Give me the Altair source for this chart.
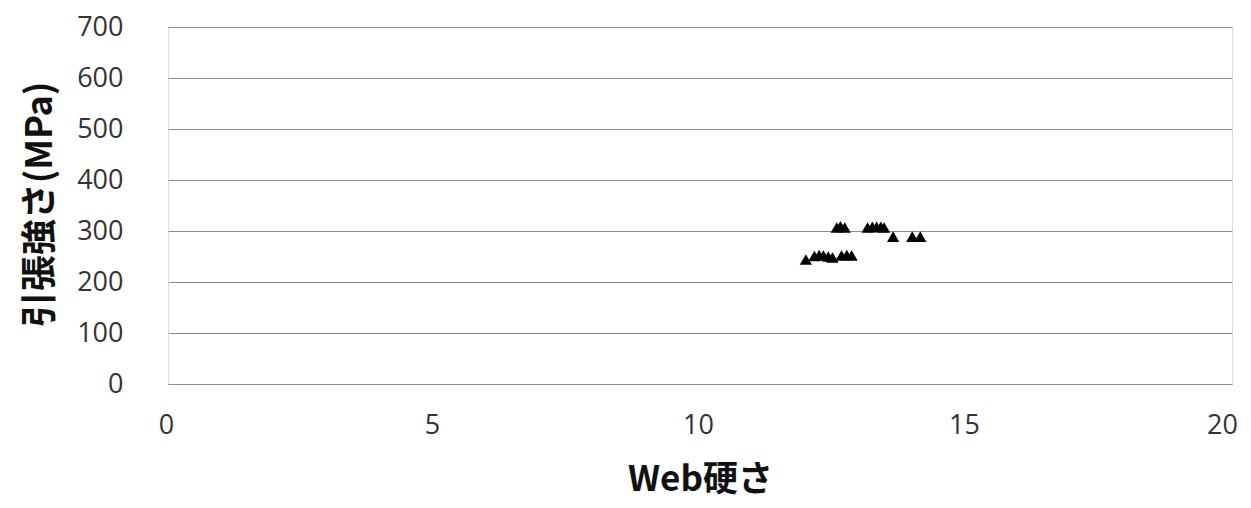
import altair as alt
import pandas as pd

web_hardness = [12.57, 12.64, 12.72,
                13.15, 13.24, 13.32, 13.40, 13.46,
                13.63, 13.99, 14.14,
                11.99, 12.15, 12.24, 12.32, 12.41, 12.49,
                12.66, 12.76, 12.85]
tensile = [307, 309, 307,
           307, 308, 308, 308, 307,
           289, 289, 289,
           244, 251, 253, 252, 250, 248,
           252, 253, 252]
x_ticks = [0, 5, 10, 15, 20]
y_ticks = [0, 100, 200, 300, 400, 500, 600, 700]

df = pd.DataFrame({"x": web_hardness, "y": tensile})

chart = alt.Chart(df).mark_point(
    shape="triangle-up", filled=True, color="black", opacity=1, size=150
).encode(
    x=alt.X("x:Q", scale=alt.Scale(domain=[0, 20], nice=False),
            axis=alt.Axis(values=x_ticks, title="Web硬さ", grid=False,
                          ticks=False, domain=False, labelPadding=28, labelFlush=False,
                          labelOffset={"condition": {"test": "datum.value == 20", "value": -10},
                                       "value": -2},
                          labelFontSize=27, labelFont="Open Sans", labelColor="#333333",
                          titleFont="Noto Sans CJK JP", titleFontSize=35, titleFontWeight="bold",
                          titleColor="#111111", titleY=106, titleBaseline="alphabetic")),
    y=alt.Y("y:Q", scale=alt.Scale(domain=[0, 700], nice=False),
            axis=alt.Axis(values=y_ticks, title="引張強さ(MPa)",
                          grid=True, gridColor="#8c8c8c", gridWidth=1,
                          ticks=False, domain=False, labelPadding=45,
                          labelFontSize=27, labelFont="Open Sans", labelColor="#333333",
                          titleFont="Noto Sans CJK JP", titleFontSize=36, titleFontWeight="bold",
                          titleColor="#111111", titleX=-128, titleY=177,
                          titleAngle=-90, titleAlign="center", titleBaseline="middle")),
).properties(
    width=1064, height=357,
    autosize=alt.AutoSizeParams(type="none"),
    padding={"left": 160, "top": 19, "right": 11, "bottom": 116},
).configure_view(
    stroke="#8c8c8c", strokeWidth=1
).configure(background="white")

chart.save("out.html", embed_options={"renderer": "svg", "actions": False})
